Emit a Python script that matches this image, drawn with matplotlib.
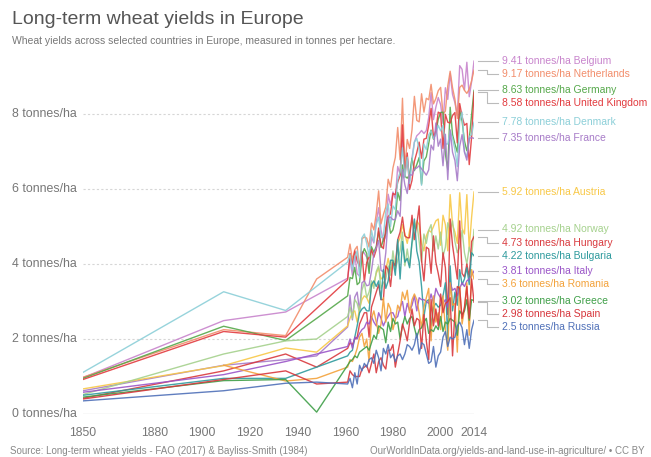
import matplotlib.pyplot as plt
from matplotlib.transforms import blended_transform_factory

# Wheat yields, tonnes per hectare
# sparse early estimates (Bayliss-Smith) then FAO annual series 1961-2014
years = list(range(1961, 2015))

countries = ['Belgium', 'Netherlands', 'Germany', 'United Kingdom', 'Denmark', 'France',
             'Austria', 'Norway', 'Hungary', 'Bulgaria', 'Italy', 'Romania',
             'Greece', 'Spain', 'Russia']

belgium_early = [(1850, 0.97), (1909, 2.49), (1935, 2.72)]
belgium = [3.62, 4.13, 3.70, 4.25, 3.74, 3.68, 4.34, 4.29, 4.18, 3.87,
           4.72, 4.56, 5.12, 5.50, 4.91, 4.60, 4.73, 5.86, 5.56, 5.92,
           5.75, 6.60, 6.39, 7.29, 6.45, 6.88, 6.21, 6.84, 7.25, 7.42,
           7.48, 7.56, 7.48, 7.56, 7.91, 8.57, 7.85, 8.18, 8.44, 8.25,
           7.75, 8.70, 8.39, 9.08, 8.52, 8.30, 7.95, 9.29, 9.19, 8.64,
           9.38, 8.46, 8.86, 9.41]

netherlands_early = [(1850, 0.98), (1909, 2.25), (1935, 2.09), (1948, 3.60)]
netherlands = [4.18, 4.53, 4.10, 4.38, 4.47, 3.86, 4.67, 4.72, 4.69, 4.45,
               5.09, 4.91, 5.34, 5.95, 5.07, 5.32, 5.52, 6.26, 6.05, 6.56,
               6.84, 7.64, 6.78, 8.42, 6.56, 7.32, 7.08, 7.58, 8.47, 7.83,
               7.79, 8.54, 8.05, 8.42, 8.38, 8.79, 8.27, 8.41, 8.62, 8.71,
               7.99, 8.08, 8.75, 9.14, 8.70, 8.39, 7.88, 8.71, 8.77, 8.63,
               8.55, 8.66, 8.89, 9.17]

germany_early = [(1850, 0.95), (1909, 2.34), (1935, 1.96), (1948, 2.55)]
germany = [3.15, 3.64, 3.61, 3.91, 3.45, 3.51, 4.22, 4.41, 4.28, 3.75,
           4.46, 4.31, 4.47, 4.87, 4.44, 4.66, 4.82, 5.24, 4.82, 4.91,
           5.20, 5.91, 5.69, 6.64, 6.34, 6.29, 6.38, 6.82, 6.49, 6.65,
           6.84, 6.13, 6.75, 6.86, 7.21, 7.57, 7.33, 7.51, 7.86, 8.04,
           8.05, 6.93, 6.52, 8.18, 7.45, 7.20, 6.98, 8.09, 7.81, 7.28,
           7.02, 7.32, 7.99, 8.63]

uk_early = [(1850, 0.92), (1909, 2.20), (1935, 2.05)]
uk = [3.58, 4.28, 3.97, 4.35, 4.08, 3.93, 4.31, 3.52, 4.04, 4.19,
      4.38, 4.18, 4.38, 4.96, 4.49, 4.41, 4.97, 5.27, 5.34, 5.88,
      5.85, 6.18, 6.36, 7.71, 6.33, 6.96, 5.99, 6.23, 6.74, 6.97,
      7.25, 6.82, 7.33, 7.35, 7.70, 8.15, 7.38, 7.56, 8.05, 8.01,
      7.08, 7.99, 7.78, 7.76, 7.96, 8.04, 7.23, 8.28, 7.93, 7.70,
      7.75, 6.65, 7.39, 8.58]

denmark_early = [(1850, 1.11), (1909, 3.26), (1935, 2.76)]
denmark = [4.05, 4.25, 3.85, 4.20, 4.35, 3.65, 4.70, 4.80, 4.55, 4.20,
           4.90, 4.60, 5.05, 5.25, 4.70, 4.75, 5.40, 5.60, 5.00, 5.55,
           5.45, 6.25, 6.45, 7.10, 6.30, 6.85, 6.15, 6.75, 7.25, 7.35,
           7.05, 6.10, 7.20, 7.05, 7.45, 7.55, 7.35, 7.45, 7.70, 7.55,
           7.70, 7.20, 7.20, 7.55, 7.35, 7.05, 6.60, 7.80, 8.05, 7.00,
           6.85, 7.40, 7.45, 7.78]

france_early = [(1850, 0.62), (1909, 1.30), (1935, 1.45), (1948, 1.55)]
france = [2.32, 3.17, 2.51, 3.12, 3.25, 2.75, 3.50, 3.55, 3.42, 3.44,
          3.82, 4.28, 4.42, 4.63, 3.83, 3.79, 4.30, 5.23, 5.25, 5.18,
          5.19, 5.42, 5.27, 6.52, 6.11, 5.88, 6.38, 6.37, 6.54, 6.56,
          6.62, 6.54, 6.46, 6.37, 6.51, 7.17, 7.04, 7.76, 7.14, 7.33,
          6.62, 7.46, 6.25, 7.58, 6.98, 6.76, 6.22, 7.14, 7.45, 6.98,
          6.77, 7.35, 7.37, 7.35]

austria_early = [(1850, 0.67), (1909, 1.29), (1935, 1.76), (1948, 1.65)]
austria = [2.35, 2.55, 2.70, 2.75, 2.45, 2.80, 3.05, 3.15, 3.10, 2.95,
           3.40, 3.50, 3.75, 3.90, 3.60, 3.65, 3.85, 4.15, 3.80, 4.10,
           3.90, 4.55, 4.70, 5.05, 4.80, 4.55, 4.90, 5.15, 4.95, 5.15,
           5.05, 4.55, 4.35, 4.75, 4.90, 4.85, 5.00, 5.15, 5.20, 4.50,
           5.30, 5.05, 4.35, 5.85, 5.05, 4.85, 4.55, 5.90, 4.95, 4.80,
           5.85, 4.40, 5.25, 5.92]

norway_early = [(1850, 0.52), (1909, 1.60), (1935, 1.95), (1948, 2.00)]
norway = [2.60, 2.85, 2.55, 3.05, 2.95, 2.70, 3.30, 3.50, 3.10, 3.25,
          3.55, 3.35, 3.80, 3.95, 3.35, 3.50, 3.60, 3.95, 3.70, 4.35,
          3.85, 4.10, 4.35, 4.85, 3.95, 4.40, 3.95, 4.55, 4.80, 5.10,
          4.60, 4.05, 4.80, 4.55, 4.90, 5.05, 4.35, 4.75, 4.40, 4.85,
          4.20, 4.45, 5.10, 4.90, 5.15, 4.60, 4.30, 4.45, 4.90, 4.30,
          4.00, 4.45, 4.20, 4.92]

hungary_early = [(1850, 0.42), (1909, 1.15), (1935, 1.60), (1948, 1.25)]
hungary = [1.75, 1.90, 1.85, 2.00, 2.05, 2.40, 2.55, 2.70, 2.70, 2.05,
           2.85, 3.05, 3.25, 3.45, 3.05, 3.05, 3.95, 3.85, 3.40, 4.05,
           3.95, 4.65, 4.85, 5.25, 4.75, 4.70, 4.70, 5.30, 4.65, 5.05,
           5.55, 4.10, 3.55, 4.45, 4.40, 3.75, 4.75, 4.05, 3.75, 3.40,
           4.30, 3.90, 2.65, 5.20, 4.50, 4.05, 3.60, 5.15, 3.75, 3.65,
           4.00, 3.65, 4.60, 4.73]

bulgaria_early = [(1850, 0.50), (1909, 0.95), (1935, 0.95)]
bulgaria = [1.55, 1.65, 1.70, 2.05, 2.35, 2.70, 2.80, 2.85, 2.75, 2.75,
            3.45, 3.55, 3.40, 3.55, 3.05, 3.85, 3.35, 3.55, 4.10, 4.10,
            3.70, 4.65, 3.60, 4.60, 4.05, 4.15, 3.90, 4.60, 5.20, 4.35,
            4.05, 3.40, 2.60, 3.00, 3.05, 2.35, 2.85, 2.95, 2.85, 2.90,
            3.15, 3.50, 2.00, 3.95, 2.75, 3.25, 2.90, 3.85, 3.45, 3.60,
            3.90, 3.45, 4.30, 4.22]

italy_early = [(1850, 0.58), (1909, 1.05), (1935, 1.40)]
italy = [1.80, 2.00, 1.75, 2.05, 2.00, 2.15, 2.25, 2.30, 2.45, 2.40,
         2.60, 2.45, 2.35, 2.70, 2.55, 2.35, 2.50, 2.60, 2.70, 2.70,
         2.55, 2.60, 2.85, 3.00, 2.60, 2.95, 2.75, 2.90, 3.15, 2.75,
         3.10, 3.05, 3.05, 3.00, 2.95, 3.20, 2.95, 3.35, 3.20, 3.10,
         2.95, 3.05, 2.85, 3.50, 3.30, 3.35, 3.15, 3.35, 3.50, 3.40,
         3.55, 3.60, 3.70, 3.81]

romania_early = [(1909, 1.30), (1935, 0.88), (1948, 0.95)]
romania = [1.25, 1.45, 1.40, 1.55, 1.75, 2.05, 2.15, 1.80, 2.00, 1.40,
           2.55, 2.75, 2.45, 2.15, 2.40, 3.10, 2.45, 2.95, 2.80, 2.25,
           2.50, 2.90, 2.75, 3.25, 3.05, 3.30, 2.70, 3.05, 3.20, 3.05,
           2.70, 2.30, 2.85, 3.10, 3.35, 1.95, 3.15, 2.45, 2.70, 2.25,
           3.15, 2.25, 1.70, 3.50, 2.90, 2.95, 1.65, 3.40, 2.40, 2.80,
           3.50, 2.10, 3.85, 3.60]

greece_early = [(1850, 0.45), (1909, 0.89), (1935, 0.92), (1948, 0.05)]
greece = [1.30, 1.40, 1.45, 1.55, 1.50, 1.65, 1.70, 1.75, 1.80, 1.70,
          1.90, 2.10, 2.00, 2.35, 2.30, 2.25, 1.90, 2.45, 2.20, 2.55,
          2.40, 2.45, 2.00, 2.35, 2.60, 2.40, 2.55, 2.60, 2.30, 2.05,
          2.25, 2.30, 2.45, 2.55, 2.15, 2.25, 2.20, 2.35, 2.25, 2.60,
          2.20, 2.45, 2.40, 2.55, 2.50, 2.45, 2.10, 2.75, 2.65, 2.75,
          3.05, 2.50, 3.05, 3.02]

spain_early = [(1850, 0.40), (1909, 0.92), (1935, 1.15), (1948, 0.80)]
spain = [0.85, 1.15, 1.05, 1.00, 1.00, 1.00, 1.20, 1.25, 1.30, 1.10,
         1.35, 1.60, 1.10, 1.40, 1.50, 1.30, 1.20, 1.70, 1.70, 1.85,
         1.25, 1.60, 1.95, 2.40, 2.20, 1.95, 2.45, 2.80, 2.35, 2.55,
         2.50, 1.75, 2.65, 1.95, 1.45, 3.05, 2.35, 2.80, 2.35, 3.20,
         2.70, 2.95, 3.00, 3.10, 1.55, 2.75, 3.40, 3.35, 2.55, 2.85,
         3.40, 2.55, 3.60, 2.98]

russia_early = [(1850, 0.35), (1909, 0.62), (1935, 0.82), (1948, 0.85)]
russia = [0.80, 0.95, 0.70, 1.10, 0.80, 1.30, 1.15, 1.35, 1.25, 1.45,
          1.50, 1.35, 1.70, 1.50, 1.15, 1.75, 1.60, 1.85, 1.50, 1.60,
          1.40, 1.55, 1.60, 1.45, 1.60, 1.85, 1.80, 1.70, 1.85, 2.15,
          1.60, 1.90, 1.85, 1.60, 1.35, 1.40, 1.80, 1.25, 1.55, 1.65,
          2.05, 2.20, 1.80, 2.05, 2.00, 2.05, 2.35, 2.45, 2.30, 1.85,
          2.25, 1.75, 2.25, 2.50]

series = [belgium, netherlands, germany, uk, denmark, france, austria, norway,
          hungary, bulgaria, italy, romania, greece, spain, russia]
early = [belgium_early, netherlands_early, germany_early, uk_early, denmark_early,
         france_early, austria_early, norway_early, hungary_early, bulgaria_early,
         italy_early, romania_early, greece_early, spain_early, russia_early]
colors = ['#c884cc', '#f28d6b', '#55a84a', '#e23b3f', '#8ccfd8', '#a77bc8',
          '#f8c847', '#a5d18d', '#d93a3e', '#2e9a9d', '#9a55c8', '#f3a23b',
          '#3f9f48', '#d7363c', '#4f70b8']

plt.rcParams['font.family'] = ['Liberation Sans', 'DejaVu Sans']

fig = plt.figure(figsize=(6.51, 4.57), dpi=100)
ax = fig.add_axes([83 / 651, 1 - 414 / 457, (474 - 83) / 651, (414 - 54) / 457])
ax.set_xlim(1850, 2014)
ax.set_ylim(0, 9.6)

# gridlines
for v in [2, 4, 6, 8]:
    ax.axhline(v, color='#d6d6d6', lw=0.8, ls=(0, (2, 2)), zorder=0)
ax.axhline(0, color='#dddddd', lw=1.0, zorder=0)

# draw from bottom of the legend upward so high-yield lines sit on top
for i in reversed(range(len(series))):
    xs = [p[0] for p in early[i]] + years
    ys = [p[1] for p in early[i]] + series[i]
    ax.plot(xs, ys, color=colors[i], lw=1.0, alpha=0.9, solid_joinstyle='round',
            zorder=2 + i * 0.01)

for s in ax.spines.values():
    s.set_visible(False)
ax.set_yticks([])
ax.set_xticks([1850, 1880, 1900, 1920, 1940, 1960, 1980, 2000, 2014])
ax.tick_params(axis='x', length=0, pad=9, labelsize=8.7, labelcolor='#777777')

# y labels, left aligned at the figure edge
trans = blended_transform_factory(fig.transFigure, ax.transData)
for v in [0, 2, 4, 6, 8]:
    ax.text(12 / 651, v, f'{v} tonnes/ha', transform=trans, ha='left', va='center',
            fontsize=8.9, color='#777777')

# end labels with simple de-overlap
ends = [s[-1] for s in series]
label_y = []
prev = None
for v in ends:
    y = v if prev is None else min(v, prev - 0.35)
    label_y.append(y)
    prev = y

fx = lambda px: px / 651
for i, name in enumerate(countries):
    v, ly = ends[i], label_y[i]
    if abs(v - ly) < 0.02:
        ax.plot([fx(478), fx(498)], [v, v], color='#bbbbbb', lw=0.8, transform=trans,
                clip_on=False)
    else:
        ax.plot([fx(478), fx(487), fx(487), fx(498)], [v, v, ly, ly], color='#bbbbbb',
                lw=0.8, transform=trans, clip_on=False)
    ax.text(fx(502), ly, f'{ends[i]:g} tonnes/ha {name}', transform=trans, ha='left',
            va='center', fontsize=7.5, color=colors[i])

fig.text(12 / 651, 1 - 19 / 457, 'Long-term wheat yields in Europe', fontsize=14,
         color='#555555', va='center', ha='left')
fig.text(12 / 651, 1 - 41 / 457,
         'Wheat yields across selected countries in Europe, measured in tonnes per hectare.',
         fontsize=7.5, color='#777777', va='center', ha='left')
fig.text(10 / 651, 1 - 451 / 457,
         'Source: Long-term wheat yields - FAO (2017) & Bayliss-Smith (1984)',
         fontsize=7, color='#888888', va='center', ha='left')
fig.text(645 / 651, 1 - 451 / 457,
         'OurWorldInData.org/yields-and-land-use-in-agriculture/ \u2022 CC BY',
         fontsize=7, color='#888888', va='center', ha='right')

fig.savefig('out.png', dpi=100)
